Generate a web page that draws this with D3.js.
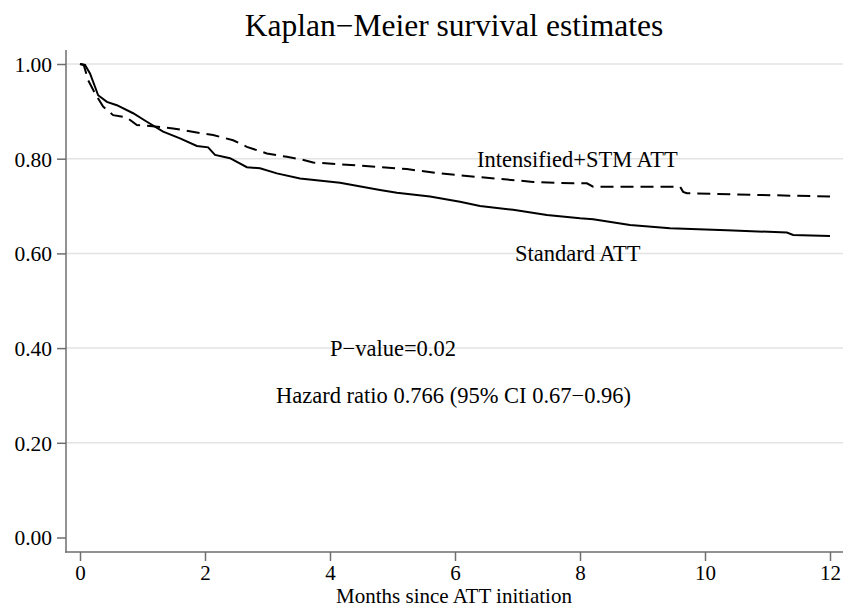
<!DOCTYPE html>
<html>
<head>
<meta charset="utf-8">
<script src="https://cdn.jsdelivr.net/npm/d3@7"></script>
<style>
  body { margin: 0; background: #fff; }
  text { font-family: "Liberation Serif", "DejaVu Serif", serif; fill: #000; }
</style>
</head>
<body>
<script>
// months since start, survival probability
const standardT = [0, 0.08, 0.16, 0.24, 0.29, 0.43, 0.59, 0.85, 1.07, 1.33, 1.6, 1.87, 2.05, 2.16, 2.4, 2.67, 2.88, 3.15, 3.52, 4.16, 4.8, 5.07, 5.6, 6.08, 6.4, 6.93, 7.47, 8.0, 8.21, 8.8, 9.44, 10.35, 11.31, 11.41, 12]
const standardS = [1.0, 0.998, 0.980, 0.952, 0.934, 0.920, 0.913, 0.896, 0.878, 0.857, 0.843, 0.827, 0.824, 0.808, 0.801, 0.782, 0.780, 0.769, 0.758, 0.749, 0.734, 0.728, 0.720, 0.709, 0.700, 0.692, 0.681, 0.674, 0.672, 0.660, 0.653, 0.649, 0.644, 0.639, 0.637]

const intensT = [0, 0.06, 0.13, 0.24, 0.37, 0.53, 0.75, 0.91, 1.12, 1.49, 1.92, 2.13, 2.45, 2.67, 2.99, 3.31, 3.52, 3.73, 4.75, 5.23, 5.76, 6.4, 7.25, 7.89, 8.11, 8.21, 9.6, 9.65, 9.71, 12]
const intensS = [1.0, 0.998, 0.966, 0.938, 0.910, 0.892, 0.887, 0.871, 0.869, 0.864, 0.854, 0.850, 0.839, 0.825, 0.811, 0.804, 0.799, 0.792, 0.783, 0.778, 0.769, 0.761, 0.751, 0.748, 0.748, 0.741, 0.741, 0.730, 0.727, 0.720]

const xTicks = [0, 2, 4, 6, 8, 10, 12]
const yTicks = [0, 0.2, 0.4, 0.6, 0.8, 1.0]

const W = 843, H = 608
const svg = d3.select("body").append("svg")
  .attr("width", W)
  .attr("height", H)

const x = d3.scaleLinear().domain([0, 12]).range([80, 830])
const y = d3.scaleLinear().domain([0, 1]).range([537.5, 64])

const axisCol = "#6e6e6e"

// gridlines
svg.append("g")
  .selectAll("line")
  .data(yTicks.filter(d => d > 0))
  .join("line")
  .attr("x1", 66)
  .attr("x2", W)
  .attr("y1", d => y(d))
  .attr("y2", d => y(d))
  .style("stroke", "#e3e3e3")
  .style("stroke-width", 1.5)

// y axis
const yAxis = svg.append("g")
  .attr("transform", "translate(66,0)")
  .call(d3.axisLeft(y).tickValues(yTicks).tickFormat(d3.format(".2f")).tickSize(9).tickPadding(5))
yAxis.select(".domain").remove()
yAxis.append("line")
  .attr("x1", 0).attr("x2", 0)
  .attr("y1", 50).attr("y2", 552.5)
yAxis.selectAll("line").style("stroke", axisCol).style("stroke-width", 1.5)
yAxis.selectAll("text")
  .style("font-size", "21.5px")
  .style("font-family", "Liberation Serif")
  .attr("fill", "#000")
  .attr("dy", "0.34em")

// x axis
const xAxis = svg.append("g")
  .attr("transform", "translate(0,552)")
  .call(d3.axisBottom(x).tickValues(xTicks).tickFormat(d3.format("d")).tickSize(9).tickPadding(4))
xAxis.select(".domain").remove()
xAxis.append("line")
  .attr("x1", 65).attr("x2", W)
  .attr("y1", 0).attr("y2", 0)
xAxis.selectAll("line").style("stroke", axisCol).style("stroke-width", 1.5)
xAxis.selectAll("text")
  .style("font-size", "21px")
  .style("font-family", "Liberation Serif")
  .attr("fill", "#000")

svg.append("text")
  .attr("x", 454)
  .attr("y", 603)
  .attr("text-anchor", "middle")
  .style("font-size", "21px")
  .text("Months since ATT initiation")

// title
svg.append("text")
  .attr("x", 454)
  .attr("y", 36)
  .attr("text-anchor", "middle")
  .style("font-size", "31.5px")
  .text("Kaplan\u2212Meier survival estimates")

// curves
const line = d3.line()
  .x(d => x(d[0]))
  .y(d => y(d[1]))

svg.append("path")
  .datum(d3.zip(intensT, intensS))
  .attr("d", line)
  .style("fill", "none")
  .style("stroke", "#000")
  .style("stroke-width", 2)
  .style("stroke-dasharray", "13,7")

svg.append("path")
  .datum(d3.zip(standardT, standardS))
  .attr("d", line)
  .style("fill", "none")
  .style("stroke", "#000")
  .style("stroke-width", 2)

// annotations
const notes = [
  {t: "Intensified+STM ATT", x: 477, y: 167},
  {t: "Standard ATT", x: 515, y: 261},
  {t: "P\u2212value=0.02", x: 330, y: 356},
  {t: "Hazard ratio 0.766 (95% CI 0.67\u22120.96)", x: 276, y: 403}
]
svg.append("g")
  .selectAll("text")
  .data(notes)
  .join("text")
  .attr("x", d => d.x)
  .attr("y", d => d.y)
  .style("font-size", "22.5px")
  .text(d => d.t)
</script>
</body>
</html>
